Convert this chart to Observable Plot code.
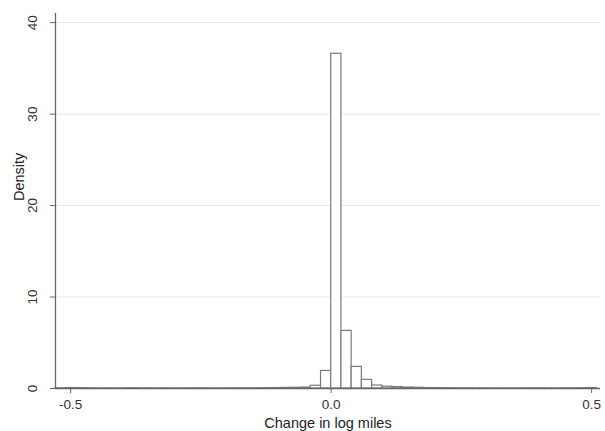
<!DOCTYPE html>
<html>
<head>
<meta charset="utf-8">
<script src="https://cdn.jsdelivr.net/npm/d3@7"></script>
<script src="https://cdn.jsdelivr.net/npm/@observablehq/plot@0.6"></script>
<style>
  html, body { margin: 0; padding: 0; background: #fff; }
  #chart { width: 605px; height: 431px; }
</style>
</head>
<body>
<div id="chart"></div>
<script>
// Histogram bins (left edges) and densities
const binWidth = 0.0196;
const binStart = [
  -0.529, -0.5094, -0.4898, -0.4702, -0.4506, -0.431, -0.4114, -0.3918, -0.3722, -0.3526,
  -0.333, -0.3134, -0.2938, -0.2742, -0.2546, -0.235, -0.2154, -0.1958, -0.1762, -0.1566,
  -0.137, -0.1174, -0.0978, -0.0782, -0.0586, -0.039, -0.0194, 0.0002, 0.0198, 0.0394,
  0.059, 0.0786, 0.0982, 0.1178, 0.1374, 0.157, 0.1766, 0.1962, 0.2158, 0.2354,
  0.255, 0.2746, 0.2942, 0.3138, 0.3334, 0.353, 0.3726, 0.3922, 0.4118, 0.4314,
  0.451, 0.4706, 0.4902
];
const density = [
  0.02, 0.05, 0.04, 0.02, 0.01, 0.01, 0.01, 0.03, 0.02, 0.01,
  0.01, 0.01, 0.01, 0.01, 0.02, 0.01, 0.01, 0.02, 0.02, 0.02,
  0.03, 0.04, 0.06, 0.08, 0.1, 0.3, 1.92, 36.6, 6.3, 2.36,
  0.95, 0.33, 0.2, 0.15, 0.1, 0.08, 0.05, 0.04, 0.03, 0.02,
  0.02, 0.01, 0.01, 0.01, 0.01, 0.01, 0.02, 0.02, 0.01, 0.01,
  0.02, 0.03, 0.05
];
const xTicks = [-0.5, 0, 0.5];
const xTickLabels = ["-0.5", "0.0", "0.5"];
const yTicks = [0, 10, 20, 30, 40];
const xTitle = "Change in log miles";
const yTitle = "Density";

const bins = binStart.map((s, i) => ({x1: s, x2: s + binWidth, y: density[i]}));

const font = "'Liberation Sans', Arial, sans-serif";

const chart = Plot.plot({
  width: 605,
  height: 431,
  marginLeft: 55,
  marginRight: 5,
  marginTop: 13,
  marginBottom: 43,
  style: {fontFamily: font, fontSize: "13.5px", color: "#333", background: "#fff"},
  x: {domain: [-0.529, 0.517], label: null},
  y: {domain: [0, 41], label: null},
  marks: [
    Plot.gridY(yTicks.filter(d => d > 0), {stroke: "#e6e6e6", strokeOpacity: 1, strokeWidth: 1}),
    Plot.rectY(bins, {x1: "x1", x2: "x2", y: "y", fill: "#fff", stroke: "#7a7a7a", strokeWidth: 1.2}),
    Plot.ruleX([-0.529], {stroke: "#666", strokeWidth: 1.3}),
    Plot.ruleY([0], {stroke: "#666", strokeWidth: 1.3}),
    Plot.axisX(xTicks, {tickFormat: (d, i) => xTickLabels[i], tickSize: 5, tickPadding: 6, stroke: "#666", fill: "#333", fontSize: 13.5, label: null}),
    Plot.axisY(yTicks, {tickSize: 5, tickFormat: () => "", stroke: "#666", label: null}),
    Plot.text(yTicks, {y: d => d, text: d => String(d), frameAnchor: "left", dx: -23, rotate: -90, fill: "#333", fontSize: 13.5, textAnchor: "middle"}),
    Plot.text([xTitle], {frameAnchor: "bottom", dy: 39, fill: "#222", fontSize: 14.5}),
    Plot.text([yTitle], {frameAnchor: "left", dx: -36, rotate: -90, fill: "#222", fontSize: 14.5})
  ]
});
document.getElementById("chart").appendChild(chart);
</script>
</body>
</html>
